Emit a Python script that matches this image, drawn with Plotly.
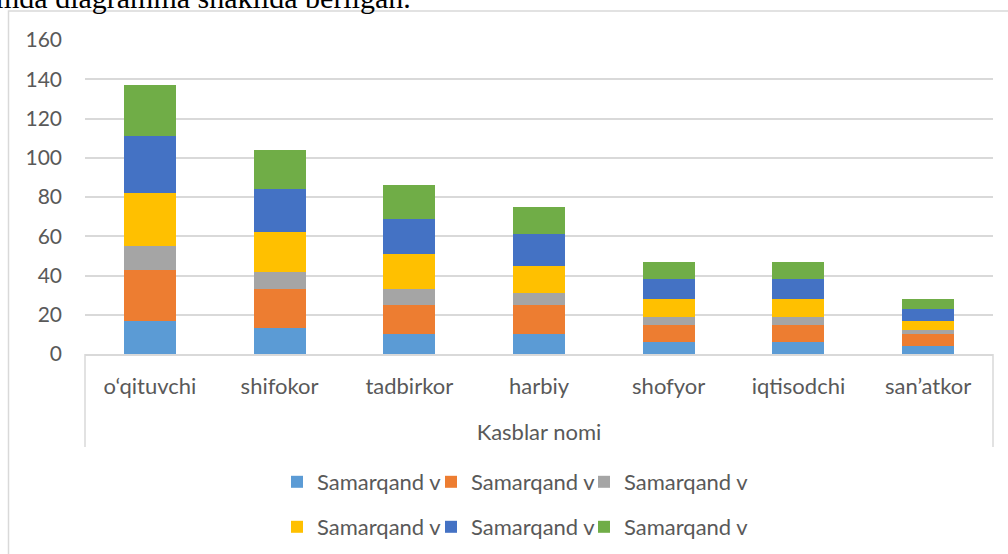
import plotly.graph_objects as go

categories = ["o‘qituvchi", "shifokor", "tadbirkor", "harbiy", "shofyor", "iqtisodchi", "san’atkor"]
series_names = ["Samarqand v"] * 6
s1 = [17, 13, 10, 10, 6, 6, 4]
s2 = [26, 20, 15, 15, 9, 9, 6]
s3 = [12, 9, 8, 6, 4, 4, 2]
s4 = [27, 20, 18, 14, 9, 9, 5]
s5 = [29, 22, 18, 16, 10, 10, 6]
s6 = [26, 20, 17, 14, 9, 9, 5]
series_values = [s1, s2, s3, s4, s5, s6]
colors = ["#5B9BD5", "#ED7D31", "#A5A5A5", "#FFC000", "#4472C4", "#70AD47"]
y_ticks = [0, 20, 40, 60, 80, 100, 120, 140, 160]

W, H = 1008, 554
L, R, T, B = 85, 15, 40, 200
pw, ph = W - L - R, H - T - B

def px_x(x):
    return (x - L) / pw

def px_y(y):
    return (H - B - y) / ph

FONT = "Lato"
GRAY = "#595959"
LINE = "#d9d9d9"

# legend slot positions (px): three per row, two rows
legend_x_px = [277, 431, 584, 277, 431, 584]
legend_y_px = [461, 461, 461, 506, 506, 506]

fig = go.Figure()
legend_layouts = {}
for i, (name, vals, c) in enumerate(zip(series_names, series_values, colors)):
    key = "legend" if i == 0 else f"legend{i + 1}"
    fig.add_trace(go.Bar(
        x=categories, y=vals, name=name,
        marker=dict(color=c, line=dict(width=0)),
        legend=key, showlegend=True,
    ))
    legend_layouts[key] = dict(
        orientation="h", x=px_x(legend_x_px[i]), y=px_y(legend_y_px[i]),
        xanchor="left", yanchor="top", font=dict(size=22, color=GRAY),
        bgcolor="rgba(0,0,0,0)",
    )

fig.update_layout(
    width=W, height=H,
    margin=dict(l=L, r=R, t=T, b=B, autoexpand=False),
    barmode="stack", bargap=0.6,
    plot_bgcolor="white", paper_bgcolor="white",
    font=dict(family=FONT, color=GRAY, size=22),
    xaxis=dict(
        showline=True, linecolor=LINE, linewidth=1.5,
        ticks="", tickfont=dict(size=22, color=GRAY),
        ticklabelstandoff=12,
        title=dict(text="Kasblar nomi", font=dict(size=22, color=GRAY), standoff=26),
        automargin=False,
    ),
    yaxis=dict(
        range=[0, 160], tickvals=y_ticks, showgrid=True, gridcolor=LINE, gridwidth=1.5,
        zeroline=False, ticks="", tickfont=dict(size=21, color=GRAY),
        ticklabelstandoff=22, automargin=False,
    ),
    shapes=[
        dict(type="rect", xref="paper", yref="paper",
             x0=px_x(8.5), x1=px_x(1015), y0=px_y(560), y1=px_y(11),
             line=dict(color=LINE, width=1.5), layer="below"),
        dict(type="line", xref="paper", yref="paper",
             x0=0, x1=0, y0=0, y1=px_y(447), line=dict(color=LINE, width=1.5)),
        dict(type="line", xref="paper", yref="paper",
             x0=1, x1=1, y0=0, y1=px_y(447), line=dict(color=LINE, width=1.5)),
    ],
    annotations=[
        dict(text="mda diagramma shaklida berilgan.", xref="paper", yref="paper",
             x=px_x(-6), y=px_y(16), xanchor="left", yanchor="bottom",
             showarrow=False, font=dict(family="Liberation Serif", size=30, color="black")),
    ],
)
fig.update_layout(**legend_layouts)

fig.write_html("out.html", config={"displayModeBar": False},
               post_script="document.body.style.margin='0';")
